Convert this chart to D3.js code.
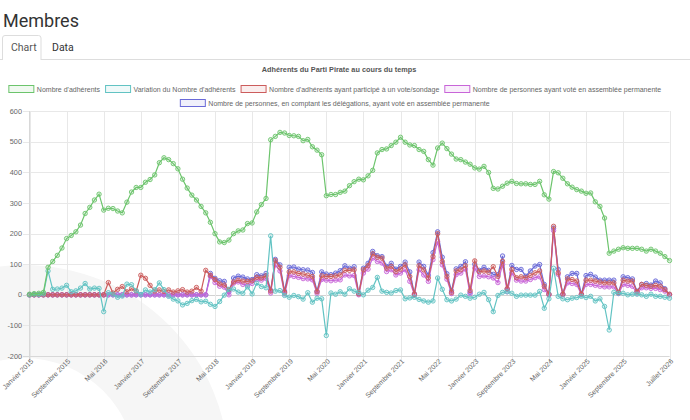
<!DOCTYPE html>
<html>
<head>
<meta charset="utf-8">
<script src="https://cdn.jsdelivr.net/npm/d3@7"></script>
<style>
  body { margin: 0; background: #fff; }
  svg { display: block; font-family: "Liberation Sans", Arial, sans-serif; }
</style>
</head>
<body>
<svg id="page" width="690" height="420"></svg>
<script>
// month categories, Janvier 2015 -> Juillet 2026
const moisNoms = ["Janvier","Février","Mars","Avril","Mai","Juin","Juillet","Août","Septembre","Octobre","Novembre","Décembre"];
const mois = [];
for (let y = 2015; y <= 2026; y++) {
  for (let m = 0; m < 12; m++) {
    if (y === 2026 && m > 6) break;
    mois.push(moisNoms[m] + " " + y);
  }
}

const adherents = [2,4,5,8,90,109,129,153,184,194,206,228,266,286,310,329,277,283,282,274,
  268,303,336,351,351,368,377,392,432,448,442,429,412,378,349,326,310,289,268,237,
  200,173,171,179,200,209,212,233,235,271,295,315,507,518,531,529,521,520,518,504,
  508,484,473,458,324,328,328,335,339,357,370,378,376,389,407,464,475,477,488,499,
  515,499,490,488,475,469,442,424,480,496,478,460,444,442,434,427,415,411,420,400,
  348,346,355,365,371,364,363,363,361,361,371,327,313,403,399,381,363,352,344,339,
  332,333,304,289,251,136,143,149,154,152,152,152,149,143,149,143,136,125,112];

const variation = [0,2,1,3,78,18,19,22,31,10,13,22,37,19,22,21,-55,7,2,-8,
  -4,35,33,13,1,16,9,17,39,17,-5,-14,-20,-33,-28,-19,-15,-23,-21,-31,
  -38,-22,-1,18,19,9,5,26,3,38,27,23,193,12,14,-2,-8,-2,-6,-14,
  7,-24,-11,-13,-133,6,2,10,2,20,12,8,0,15,24,57,12,8,6,14,
  16,-13,-10,-8,-15,-20,-24,-20,55,18,-16,-20,-14,-1,-5,-11,-8,2,8,-16,
  -55,-2,8,10,5,-5,-1,-1,-1,-1,11,-44,-13,87,-5,-13,-16,-11,-9,-5,
  -9,-5,-20,-13,-38,-115,8,5,5,0,2,2,0,-5,2,-5,-5,-8,-11];

const votants = [0,0,0,0,0,0,0,0,0,0,0,0,0,0,0,0,0,40,6,18,
  27,10,20,12,64,54,31,12,16,11,16,9,13,17,9,12,24,12,80,64,
  50,36,32,17,42,48,45,44,46,57,55,62,12,112,90,8,75,75,70,68,
  64,60,10,62,60,60,62,65,80,80,82,3,82,95,134,123,120,87,93,76,
  84,98,60,2,95,82,55,125,200,109,60,8,78,82,95,14,111,76,78,74,
  92,60,110,20,83,56,59,56,63,72,78,28,2,224,72,2,52,50,45,2,
  48,48,45,42,39,39,39,8,48,45,45,10,34,31,28,31,28,17,2];

const assemblee = [0,0,0,0,0,0,0,0,0,0,0,0,0,0,0,0,0,0,0,0,
  0,0,0,0,0,0,0,0,0,0,0,0,0,0,0,0,0,0,0,60,
  40,28,25,0,38,42,34,32,37,50,48,53,6,98,78,3,63,60,57,53,
  52,49,5,50,48,46,48,49,65,62,63,0,71,84,120,109,104,76,82,65,
  71,82,44,0,82,65,44,115,175,98,51,4,66,71,84,3,88,60,62,59,
  55,40,99,10,72,48,45,45,50,56,59,17,0,210,67,0,39,37,34,0,
  34,34,31,28,26,26,26,4,34,31,28,6,23,23,21,21,17,12,0];

const delegations = [0,0,0,0,0,0,0,0,0,0,0,0,0,0,0,0,0,0,0,0,
  0,0,0,0,0,0,0,0,0,0,0,0,0,0,0,0,0,0,0,70,
  54,46,44,10,55,61,58,52,50,66,62,70,15,116,98,12,90,91,84,82,
  81,73,12,75,68,66,71,79,95,87,92,5,87,103,142,128,125,93,103,84,
  93,107,75,3,107,93,64,138,206,123,69,13,85,93,108,8,100,80,90,80,
  67,66,127,18,96,83,83,61,78,94,99,34,2,218,83,2,59,70,70,2,
  63,67,58,48,48,48,48,7,59,56,52,12,34,37,32,45,39,20,1];

const series = [
  { label: "Nombre d'adhérents", values: adherents, color: "#6cc46c" },
  { label: "Variation du Nombre d'adhérents", values: variation, color: "#62c3c3" },
  { label: "Nombre d'adhérents ayant participé à un vote/sondage", values: votants, color: "#cc5c5c" },
  { label: "Nombre de personnes ayant voté en assemblée permanente", values: assemblee, color: "#c865d8" },
  { label: "Nombre de personnes, en comptant les délégations, ayant voté en assemblée permanente", values: delegations, color: "#6a6ad8" }
];

const yTicks = [-200, -100, 0, 100, 200, 300, 400, 500, 600];

const svg = d3.select("#page");
const W = 690;

// faint logo arc in the background
svg.append("path")
  .attr("d", d3.arc().innerRadius(112).outerRadius(205).startAngle(-Math.PI).endAngle(Math.PI)())
  .attr("transform", "translate(24,470)")
  .attr("fill", "#f6f6f6");

// page heading + tabs
svg.append("text").attr("x", 3).attr("y", 27)
  .style("font-family", "Roboto, sans-serif").style("font-size", "18px")
  .attr("fill", "#333").text("Membres");

svg.append("line").attr("x1", 0).attr("x2", W).attr("y1", 59.5).attr("y2", 59.5).attr("stroke", "#ddd");
svg.append("path")
  .attr("d", "M2.5,60 V38 Q2.5,35.5 5,35.5 H38.5 Q41,35.5 41,38 V60")
  .attr("fill", "#fff").attr("stroke", "#ddd");
svg.append("text").attr("x", 11).attr("y", 51)
  .style("font-family", "Roboto, sans-serif").style("font-size", "10.5px")
  .attr("fill", "#555").text("Chart");
svg.append("text").attr("x", 52).attr("y", 51)
  .style("font-family", "Roboto, sans-serif").style("font-size", "10.5px")
  .attr("fill", "#333").text("Data");

// chart
const fs = 7;
const cx = 335;

svg.append("text").attr("x", cx + 4).attr("y", 72).attr("text-anchor", "middle")
  .style("font-size", "7.3px").style("font-weight", "bold").attr("fill", "#555")
  .text("Adhérents du Parti Pirate au cours du temps");

// legend, laid out in centered rows
const boxW = 25, boxH = 7, gap = 5.5;
const leg = svg.append("g");
const items = series.map(s => {
  const g = leg.append("g");
  g.append("rect").attr("width", boxW).attr("height", boxH)
    .attr("fill", d3.color(s.color).copy({opacity: 0.1})).attr("stroke", s.color).attr("stroke-width", 1);
  const t = g.append("text").attr("x", boxW + 3).attr("y", boxH - 0.8)
    .style("font-size", fs + "px").attr("fill", "#666").text(s.label);
  return { g, w: boxW + 3 + t.node().getComputedTextLength() };
});
const rows = [[]];
let rowW = 0;
items.forEach(it => {
  if (rowW + it.w > 680 && rows[rows.length - 1].length) { rows.push([]); rowW = 0; }
  rows[rows.length - 1].push(it);
  rowW += it.w + gap;
});
rows.forEach((row, r) => {
  const total = d3.sum(row, d => d.w) + gap * (row.length - 1);
  let x = cx - total / 2;
  row.forEach(it => {
    it.g.attr("transform", `translate(${x},${85.5 + r * 14})`);
    x += it.w + gap;
  });
});

const x = d3.scalePoint().domain(mois).range([29.5, 669.5]);
const y = d3.scaleLinear().domain([-200, 600]).range([356, 111.3]);

const shown = mois.filter((m, i) => (i % 8 === 0 && i <= 128) || i === mois.length - 1);

// grid
svg.append("g").selectAll("line").data(yTicks).join("line")
  .attr("x1", 23).attr("x2", 669.5)
  .attr("y1", d => Math.round(y(d)) + 0.5).attr("y2", d => Math.round(y(d)) + 0.5)
  .attr("stroke", d => d === 0 ? "#d2d2d2" : "#e8e8e8");
svg.append("g").selectAll("line").data(shown).join("line")
  .attr("x1", d => Math.round(x(d)) + 0.5).attr("x2", d => Math.round(x(d)) + 0.5)
  .attr("y1", 111).attr("y2", 362)
  .attr("stroke", "#e8e8e8");
svg.append("line").attr("x1", 29.5).attr("x2", 29.5).attr("y1", 111).attr("y2", 362).attr("stroke", "#d8d8d8");
svg.append("line").attr("x1", 23).attr("x2", 669.5).attr("y1", 356.5).attr("y2", 356.5).attr("stroke", "#d8d8d8");

// y labels
svg.append("g").selectAll("text").data(yTicks).join("text")
  .attr("x", 22).attr("y", d => y(d) + 2.6).attr("text-anchor", "end")
  .style("font-size", "7.3px").attr("fill", "#666").text(d => d);

// x labels
svg.append("g").selectAll("text").data(shown).join("text")
  .attr("text-anchor", "end")
  .attr("transform", d => `translate(${x(d) + 2.5},${360}) rotate(-45)`)
  .attr("dy", "0.35em")
  .style("font-size", fs + "px").attr("fill", "#666").text(d => d);

// lines + points, last dataset drawn first
const line = d3.line().x((d, i) => x(mois[i])).y(d => y(d));
series.slice().reverse().forEach(s => {
  const g = svg.append("g");
  g.append("path").datum(s.values).attr("d", line)
    .attr("fill", "none").attr("stroke", s.color).attr("stroke-width", 1.2);
  g.selectAll("circle").data(s.values).join("circle")
    .attr("cx", (d, i) => x(mois[i])).attr("cy", d => y(d)).attr("r", 2.2)
    .attr("fill", d3.color(s.color).copy({opacity: 0.2}))
    .attr("stroke", s.color).attr("stroke-width", 0.9);
});
</script>
</body>
</html>
